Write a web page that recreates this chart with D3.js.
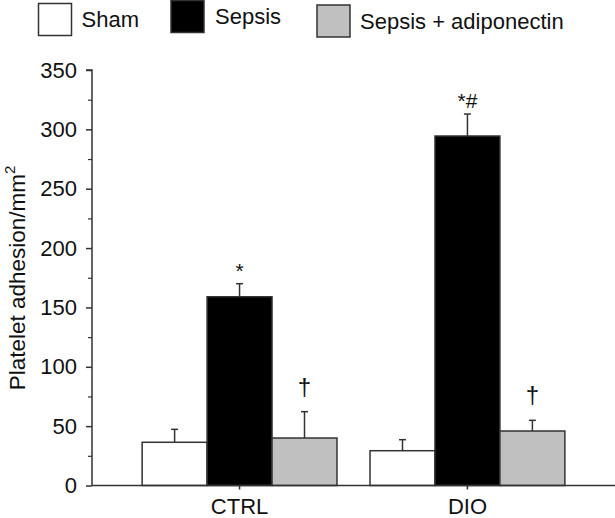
<!DOCTYPE html>
<html>
<head>
<meta charset="utf-8">
<script src="https://cdn.jsdelivr.net/npm/d3@7"></script>
<style>
  html, body { margin: 0; padding: 0; background: #fff; }
  svg { display: block; font-family: "Liberation Sans", Arial, sans-serif; }
</style>
</head>
<body>
<svg id="chart" width="615" height="518"></svg>
<script>
// ---- data ----
const categories = ["CTRL", "DIO"];
const seriesNames = ["Sham", "Sepsis", "Sepsis + adiponectin"];
const shamValues = [36.4, 29.3];
const sepsisValues = [159, 294.4];
const adipoValues = [40, 45.9];
const shamErrors = [10.9, 9.3];
const sepsisErrors = [11, 18.5];
const adipoErrors = [22.2, 9];
const shamMarks = ["", ""];
const sepsisMarks = ["*", "*#"];
const adipoMarks = ["\u2020", "\u2020"];
const yTicks = [0, 50, 100, 150, 200, 250, 300, 350];
const yMinorTicks = [25, 75, 125, 175, 225, 275, 325];

// ---- styles / layout ----
const fills = ["#ffffff", "#000000", "#c0c0c0"];
const stroke = "#333";
const textColor = "#111";

const svg = d3.select("#chart");
const x0 = d3.scaleBand().domain(categories).range([92, 615]).paddingInner(0.145).paddingOuter(0.22);
const x1 = d3.scaleBand().domain(seriesNames).range([0, x0.bandwidth()]).padding(0);
const y = d3.scaleLinear().domain([0, 350]).range([485.5, 70]);

const seriesData = [
  { name: seriesNames[0], values: shamValues, errors: shamErrors, marks: shamMarks, fill: fills[0] },
  { name: seriesNames[1], values: sepsisValues, errors: sepsisErrors, marks: sepsisMarks, fill: fills[1] },
  { name: seriesNames[2], values: adipoValues, errors: adipoErrors, marks: adipoMarks, fill: fills[2] }
];

const flat = [];
seriesData.forEach(s => categories.forEach((c, i) => flat.push({
  cat: c, series: s.name, value: s.values[i], err: s.errors[i], mark: s.marks[i], fill: s.fill
})));

// error bars
const eb = svg.append("g");
flat.forEach(d => {
  const cx = x0(d.cat) + x1(d.series) + x1.bandwidth() / 2;
  eb.append("line").attr("x1", cx).attr("x2", cx).attr("y1", y(d.value)).attr("y2", y(d.value + d.err))
    .attr("stroke", stroke).attr("stroke-width", 1.5);
  eb.append("line").attr("x1", cx - 3.5).attr("x2", cx + 3.5).attr("y1", y(d.value + d.err)).attr("y2", y(d.value + d.err))
    .attr("stroke", stroke).attr("stroke-width", 1.5);
});

// bars
svg.append("g").selectAll("rect").data(flat).join("rect")
  .attr("x", d => x0(d.cat) + x1(d.series))
  .attr("width", x1.bandwidth())
  .attr("y", d => y(d.value))
  .attr("height", d => y(0) - y(d.value))
  .attr("fill", d => d.fill)
  .attr("stroke", stroke)
  .attr("stroke-width", 1.5);

// significance marks
svg.append("g").selectAll("text").data(flat.filter(d => d.mark)).join("text")
  .attr("x", d => x0(d.cat) + x1(d.series) + x1.bandwidth() / 2)
  .attr("y", d => y(d.value + d.err) - (d.mark.startsWith("*") ? 6 : 17))
  .attr("text-anchor", "middle")
  .attr("font-size", d => d.mark.startsWith("*") ? 21 : 24)
  .attr("fill", textColor)
  .text(d => d.mark);

// y axis
const yAxis = svg.append("g").attr("transform", "translate(92,0)")
  .call(d3.axisLeft(y).tickValues(yTicks).tickSize(6).tickPadding(9).tickFormat(d3.format("d")));
yAxis.select(".domain").attr("stroke", stroke).attr("stroke-width", 1.5).attr("d", `M-6,${y(350)}H0V${y(0)}`);
yAxis.selectAll(".tick line").attr("stroke", stroke).attr("stroke-width", 1.5);
yAxis.selectAll(".tick text").attr("font-size", 22).attr("fill", textColor).attr("font-family", "Liberation Sans, Arial, sans-serif");
const yMinor = svg.append("g").attr("transform", "translate(92,0)")
  .call(d3.axisLeft(y).tickValues(yMinorTicks).tickSize(4).tickFormat(""));
yMinor.select(".domain").remove();
yMinor.selectAll(".tick line").attr("stroke", stroke).attr("stroke-width", 1.2);

// x axis
const xAxis = svg.append("g").attr("transform", `translate(0,${y(0)})`)
  .call(d3.axisBottom(x0).tickSize(4).tickPadding(9));
xAxis.select(".domain").attr("stroke", stroke).attr("stroke-width", 1.5).attr("d", "M92,0H615");
xAxis.selectAll(".tick line").attr("stroke", stroke).attr("stroke-width", 1.5);
xAxis.selectAll(".tick text").attr("font-size", 22).attr("fill", textColor)
  .attr("font-family", "Liberation Sans, Arial, sans-serif").attr("dy", "0.71em");

// y title
const yt = svg.append("text")
  .attr("transform", "translate(25,278) rotate(-90)")
  .attr("text-anchor", "middle")
  .attr("font-size", 22.5)
  .attr("fill", textColor);
yt.append("tspan").text("Platelet adhesion/mm");
yt.append("tspan").attr("font-size", 15).attr("dy", -10).text("2");

// legend
const legendLayout = [
  { bx: 38.5, by: 3.5, tx: 81.5, ty: 19 },
  { bx: 171, by: 0.5, tx: 215, ty: 16.5 },
  { bx: 317, by: 5, tx: 360, ty: 21.5 }
];
const lg = svg.append("g");
seriesData.forEach((s, i) => {
  const L = legendLayout[i];
  lg.append("rect").attr("x", L.bx).attr("y", L.by).attr("width", 33).attr("height", 32)
    .attr("fill", s.fill).attr("stroke", stroke).attr("stroke-width", 1.5);
  lg.append("text").attr("x", L.tx).attr("y", L.ty).attr("dy", "0.36em")
    .attr("font-size", 22).attr("fill", textColor).text(s.name);
});
</script>
</body>
</html>
